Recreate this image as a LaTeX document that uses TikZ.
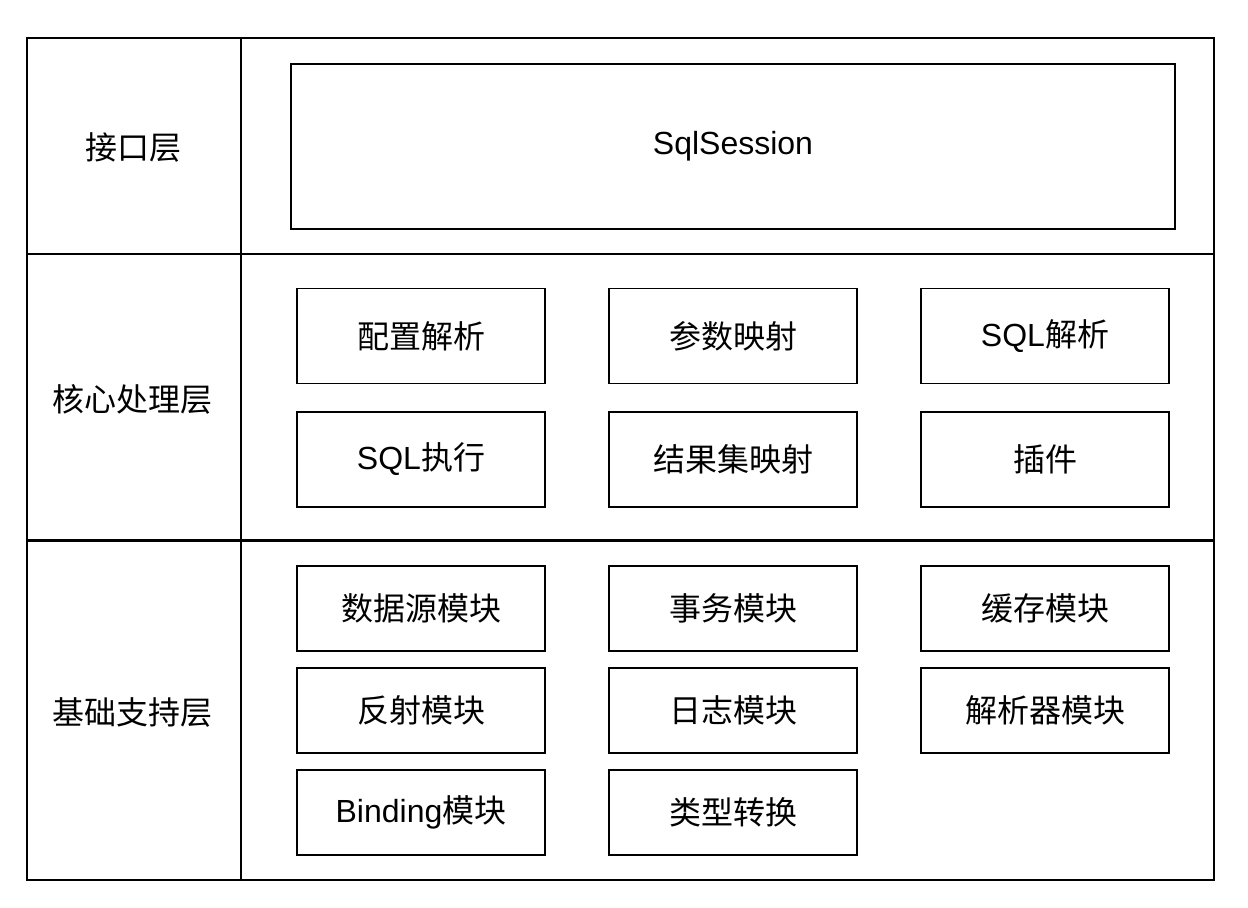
\documentclass[tikz,border=0pt]{standalone}
\usepackage{fontspec}
\setmainfont{Liberation Sans}
\newfontfamily\cjk{Noto Sans CJK SC}
\usepackage{tikz}
\usetikzlibrary{positioning}

\tikzset{
    modbox/.style={draw, line width=0.75pt, minimum width=124pt, minimum height=47.5pt,
        inner sep=0pt, font=\fontsize{16pt}{18pt}\selectfont\cjk},
    basebox/.style={modbox, minimum height=42.5pt},
    layername/.style={font=\fontsize{16pt}{18pt}\selectfont\cjk}
}
\newcommand{\lat}[1]{{\fontspec{Liberation Sans}#1}}

\begin{document}
\begin{tikzpicture}[x=0.5pt, y=-0.5pt]
    \useasboundingbox (0,0) rectangle (1248,908);
    % Khung ngoài
    \draw[line width=1pt] (27,38) rectangle (1214,880);
    \draw[line width=1pt] (241,38) -- (241,880);
    \draw[line width=1pt] (27,254) -- (1214,254);
    \draw[line width=1.5pt] (27,541) -- (1214,541);

    % Tên các tầng
    \node[layername] (interface) at (133,148) {接口层};
    \node[layername] (core) at (133,399) {核心处理层};
    \node[layername] (base) at (133,712) {基础支持层};

    % Tầng giao diện
    \node[modbox, minimum width=442pt, minimum height=82.5pt] (session) at (733,146.5) {\lat{SqlSession}};

    % Tầng xử lý lõi
    \node[modbox] (config) at (421,336) {配置解析};
    \node[modbox] (param) at (733,336) {参数映射};
    \node[modbox] (sqlparse) at (1045,336) {\lat{SQL}解析};
    \node[modbox] (sqlexec) at (421,459.5) {\lat{SQL}执行};
    \node[modbox] (resultmap) at (733,459.5) {结果集映射};
    \node[modbox] (plugin) at (1045,459.5) {插件};

    % Tầng hỗ trợ cơ sở
    \node[basebox] (datasource) at (421,608.5) {数据源模块};
    \node[basebox] (transaction) at (733,608.5) {事务模块};
    \node[basebox] (cache) at (1045,608.5) {缓存模块};
    \node[basebox] (reflect) at (421,710.5) {反射模块};
    \node[basebox] (logging) at (733,710.5) {日志模块};
    \node[basebox] (parser) at (1045,710.5) {解析器模块};
    \node[basebox] (binding) at (421,812.5) {\lat{Binding}模块};
    \node[basebox] (typeconv) at (733,812.5) {类型转换};

\end{tikzpicture}
\end{document}
